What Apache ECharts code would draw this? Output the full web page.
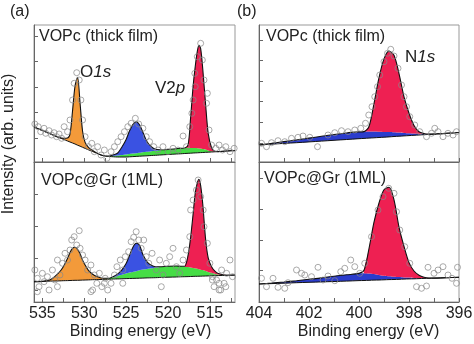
<!DOCTYPE html>
<html>
<head>
<meta charset="utf-8">
<script src="https://cdn.jsdelivr.net/npm/echarts@6.0.0/dist/echarts.min.js"></script>
<style>
  html, body { margin: 0; padding: 0; background: #fff; }
  #chart { width: 474px; height: 344px; }
</style>
</head>
<body>
<div id="chart"></div>
<script>
const _ = null;

// ---- (a) O1s / V2p region: binding-energy grid shared by both spectra ----
const energyA = [536, 535, 534, 533, 532.5, 532, 531.7, 531.4, 531.1, 530.8, 530.5, 530.2, 529.9, 529.5, 529, 528.5, 528, 527.5, 527, 526.5, 526, 525.5, 525, 524.6, 524.2, 523.8, 523.4, 523, 522.5, 522, 521.5, 521, 520, 519, 518.5, 518, 517.6, 517.3, 517, 516.75, 516.5, 516.3, 516.1, 515.85, 515.5, 515.2, 514.8, 514.4, 514, 513, 512];

// VOPc thick film: background and fitted components (height above background)
const bgThickA = [35, 31.5, 28, 24.5, 22.7, 21, 20, 19, 18, 16.8, 15.8, 14.7, 13.6, 12.2, 10.5, 8.7, 7, 6, 5.5, 5.2, 5, 5, 5, 5.2, 5.4, 5.6, 5.8, 6, 6.2, 6.5, 6.7, 7, 7.5, 8, 8.2, 8.5, 8.7, 8.8, 9, 9.1, 9.2, 9.3, 9.4, 9.5, 9.7, 9.8, 10, 10.2, 10.4, 11, 11.5];
const o1sThickA = [_, _, _, 0, 1, 3, 8, 32, 58, 68, 43, 16, 6, 2.5, 1, 0.3, 0, _, _, _, _, _, _, _, _, _, _, _, _, _, _, _, _, _, _, _, _, _, _, _, _, _, _, _, _, _, _, _, _, _, _];
const v2pHalfThickA = [_, _, _, _, _, _, _, _, _, _, _, _, _, _, _, _, _, _, 0, 1, 2.5, 8, 15, 23, 29, 31.5, 28, 20, 10, 4.5, 1.5, 0.5, _, _, _, _, _, _, _, _, _, _, _, _, _, _, _, _, _, _, _];
const satThickA = [_, _, _, _, _, _, _, _, _, _, _, _, _, _, _, _, _, 0, 0.5, 1, 1.5, 2, 2.5, 2.8, 3, 3.2, 3.5, 3.8, 4, 4.3, 4.5, 4.8, 5, 5.3, 5.5, 5.5, 5.5, 5.3, 5, 4.8, 4.5, 4.3, 4, 3.5, 2.8, 1.8, 0.8, 0, _, _, _];
const v2p32ThickA = [_, _, _, _, _, _, _, _, _, _, _, _, _, _, _, _, _, _, _, _, _, _, _, _, _, _, _, _, _, _, _, _, _, _, _, 0, 3, 30, 62, 81.5, 97, 103, 100, 80, 44, 17, 3.5, 0.5, 0, _, _];

// VOPc@Gr (1ML)
const bgMonoA = [20.3, 20.6, 20.9, 21.1, 21.3, 21.4, 21.5, 21.6, 21.7, 21.7, 21.8, 21.9, 22, 22.1, 22.3, 22.4, 22.5, 22.7, 22.8, 23, 23.1, 23.2, 23.4, 23.5, 23.6, 23.7, 23.8, 23.9, 24.1, 24.2, 24.3, 24.5, 24.8, 25, 25.2, 25.3, 25.4, 25.5, 25.6, 25.7, 25.7, 25.8, 25.8, 25.9, 26, 26.1, 26.2, 26.3, 26.4, 26.7, 27];
const o1sMonoA = [_, 0, 1.5, 8.5, 14, 22, 28, 32, 33, 31, 26.5, 20, 15, 9.5, 5.5, 3, 1.5, 0.5, 0, _, _, _, _, _, _, _, _, _, _, _, _, _, _, _, _, _, _, _, _, _, _, _, _, _, _, _, _, _, _, _, _];
const v2pHalfMonoA = [_, _, _, _, _, _, _, _, _, _, _, _, _, _, _, _, _, _, 0, 0.5, 2, 5, 10, 17, 24.5, 28, 25, 15, 7, 3, 1, 0.3, _, _, _, _, _, _, _, _, _, _, _, _, _, _, _, _, _, _, _];
const satMonoA = [_, _, _, _, _, _, _, _, _, _, _, _, _, _, _, _, 0, 0.5, 1, 2, 3, 4, 5, 6, 6.5, 7, 8, 8.5, 9, 9.5, 10, 10.5, 11, 11, 10.5, 10, 9.5, 9, 8.5, 8, 7.5, 7, 6.5, 6, 5, 4, 3, 2, 1, 0, _];
const v2p32MonoA = [_, _, _, _, _, _, _, _, _, _, _, _, _, _, _, _, _, _, _, _, _, _, _, _, _, _, _, _, _, _, _, _, _, _, _, 0.5, 12, 30, 54, 75, 86, 90, 84, 66, 31, 14, 6, 2.5, 1, 0, _];

// ---- (b) N1s region ----
const energyB = [404, 403.5, 403, 402.5, 402, 401.5, 401, 400.5, 400, 399.8, 399.6, 399.4, 399.2, 399, 398.8, 398.6, 398.4, 398.2, 398, 397.8, 397.6, 397.4, 397.2, 397, 396.5, 396];
const bgThickB = [17, 17.8, 18.6, 19.3, 20.1, 20.9, 21.7, 22.5, 23.3, 23.6, 23.9, 24.2, 24.5, 24.8, 25.1, 25.5, 25.8, 26.1, 26.4, 26.7, 27, 27.3, 27.6, 27.9, 28.7, 29.5];
const n1sSatThickB = [0, 0.8, 1.8, 2.8, 3.8, 4.8, 5.8, 6.5, 6.8, 6.8, 6.6, 6.3, 5.8, 5.3, 4.8, 4.2, 3.6, 3, 2.4, 1.8, 1.2, 0.7, 0.3, 0, _, _];
const n1sThickB = [_, _, _, _, _, _, _, _, _, 0, 5, 28, 54, 73, 81, 77, 59, 36, 20, 8, 2, 0.5, 0, _, _, _];
const bgMonoB = [18, 18.4, 18.8, 19.3, 19.7, 20.1, 20.5, 20.9, 21.4, 21.5, 21.7, 21.9, 22, 22.2, 22.4, 22.5, 22.7, 22.9, 23.1, 23.2, 23.4, 23.6, 23.7, 23.9, 24.3, 24.7];
const n1sSatMonoB = [0, 0.5, 1.2, 2, 3, 4, 5.3, 6.3, 7.2, 7.2, 6.8, 6, 5, 4, 3.3, 2.7, 2.2, 1.7, 1.3, 0.8, 0.4, 0.2, 0, _, _, _];
const n1sMonoB = [_, _, _, _, _, _, _, _, _, 3, 25, 52, 72, 86, 89, 77, 50, 31, 15, 7, 3, 1, 0.3, 0, _, _];

// ---- measured points [binding energy, intensity] ----
const pointsThickA = [[535.9,38],[535.5,35.3],[535.2,30.3],[534.8,33.7],[534.6,28.7],[534.2,31.3],[533.9,27],[533.6,29.3],[533.3,25.3],[533.0,28],[532.7,23.7],[532.4,35.3],[532.0,30.3],[531.7,42],[531.4,62],[531.2,78.7],[530.9,89.3],[530.6,82],[530.4,62],[530.2,42],[529.9,25.3],[529.5,15.3],[529.1,18.7],[528.8,10.3],[528.4,15.3],[528.0,7],[527.6,12],[527.3,3.7],[526.8,10.3],[526.4,15.3],[526.0,20.3],[525.6,25.3],[525.2,30.3],[524.8,35.3],[524.4,38.7],[523.9,43.7],[523.5,38],[523.0,33.7],[522.6,25.3],[522.2,20.3],[521.7,15.3],[521.2,12],[520.6,15.3],[520.0,10.3],[519.4,13.7],[518.8,12],[518.2,26],[517.8,15.3],[517.4,35.3],[517.15,48.7],[517.0,62],[516.8,88.7],[516.75,75.3],[516.5,105.3],[516.1,118.7],[515.9,102],[515.7,82],[515.4,58.7],[515.3,68.7],[515.1,32],[514.8,17],[514.3,13.7],[513.9,17],[513.5,12],[513.1,15.3],[512.6,10.3],[512.1,13.7]];
const pointsMonoA = [[535.9,32],[535.6,23.7],[535.4,15.3],[535.0,28.7],[534.8,20.3],[534.4,25.3],[534.2,12],[533.8,32],[533.5,22],[533.2,42],[532.9,27],[532.6,38.7],[532.3,48.7],[532.0,42],[531.7,52],[531.5,62],[531.2,65.3],[530.9,57],[530.6,71.3],[530.5,53.7],[530.2,47],[529.9,42],[529.6,32],[529.2,37],[528.8,27],[528.5,18.7],[528.2,28.7],[527.9,15.3],[527.5,23.7],[527.2,12],[526.8,18.7],[526.4,27],[526.1,35.3],[525.7,42],[525.4,32],[525.1,45.3],[524.7,50.3],[524.4,60.3],[524.1,64.7],[523.8,70.3],[523.5,62],[523.2,53.7],[522.9,62],[522.6,45.3],[522.3,38.7],[521.9,48.7],[521.4,32],[521.0,42],[520.6,27],[520.2,38.7],[519.8,45.3],[519.4,53.7],[519.0,35.3],[518.6,28.7],[518.2,42],[517.8,52],[517.4,65.3],[517.3,92],[517.0,102],[516.6,112],[516.4,122],[516.1,105.3],[515.8,92],[515.7,75.3],[515.3,58.7],[515.0,38.7],[514.7,25.3],[514.5,15.3],[514.2,22],[513.9,12],[513.6,32],[513.3,18.7],[513.0,28.7],[512.6,42],[512.3,25.3],[535.6,10.3],[533.2,15.3],[529.0,12],[527.6,18.7],[525.4,18.7],[529.2,10.3],[520.8,15.3],[514.7,22],[513.9,18.7],[513.1,15.3],[513.7,12]];
const pointsThickB = [[403.9,18.7],[403.7,15.3],[403.5,19.3],[403.24,21.3],[402.97,20.3],[402.7,23.7],[402.44,24.7],[402.24,26],[401.97,24.7],[401.66,15.3],[401.24,27],[400.97,29.3],[400.7,31.3],[400.44,30.3],[400.17,32],[399.93,33.7],[399.74,38.7],[399.61,47],[399.48,55.3],[399.37,65.3],[399.26,75.3],[399.17,87],[399.0,100.3],[398.86,108.7],[398.73,112.7],[398.6,106],[398.44,93.7],[398.3,77],[398.2,65.3],[398.1,55.3],[397.97,45.3],[397.77,37],[397.57,30.3],[397.3,25.3],[397.1,28.7],[396.97,33.7],[396.84,30.3],[396.64,25.3],[396.44,28.7],[396.24,27],[396.1,30.3]];
const pointsMonoB = [[403.9,23.7],[403.7,15.3],[403.44,23.7],[403.24,14.7],[402.97,13.7],[402.84,19.3],[402.5,32],[402.3,28.7],[402.17,27],[401.9,25.3],[401.64,34.7],[401.44,22],[401.24,26],[400.97,21.3],[400.73,30.3],[400.57,33.7],[400.33,42],[400.17,35.3],[399.97,28.7],[399.77,38.7],[399.5,65.3],[399.24,92],[399.04,105.3],[398.81,113.7],[398.6,108.7],[398.5,90.3],[398.37,72],[398.17,55.3],[397.97,38.7],[397.7,15.3],[397.5,13.7],[397.3,16],[397.24,34.7],[397.0,28.7],[396.84,32],[396.64,35.3],[396.44,27],[396.28,23.7],[396.1,18.7],[396.06,34.7]];

// ---- axis ticks and labels ----
const ticksA = [512.5, 515, 517.5, 520, 522.5, 525, 527.5, 530, 532.5, 535];
const labelsA = [515, 520, 525, 530, 535];
const ticksB = [396, 397, 398, 399, 400, 401, 402, 403, 404];
const labelsB = [396, 398, 400, 402, 404];
const yTicks = [
  [24, 49.5, 75, 100.5, 126],
  [12, 44, 76, 108],
  [19, 40, 60.5, 81, 101.5, 122],
  [32, 62, 93, 124]
];

const FONT = '"Liberation Sans", Arial, sans-serif';
const AXIS = '#666';
const COLORS = { o: '#f39a3a', b: '#3a52e2', bDark: '#2b3ccc', g: '#45dd45', r: '#ee2052' };

function pairs(xs, ys) { return xs.map((x, i) => [x, ys[i]]); }

// add a component on top of a base curve (gaps where the component is undefined)
function over(base, comp) {
  return base.map((v, i) => (comp[i] == null ? null : v + comp[i]));
}
// base plus components, treating missing values as zero
function plus(base, comps) {
  return base.map((v, i) => comps.reduce((s, c) => s + (c[i] == null ? 0 : c[i]), v));
}

// filled region between two curves, one polygon per continuous run
function band(g, xs, lower, upper, color) {
  return {
    type: 'custom', coordinateSystem: 'cartesian2d', xAxisIndex: g, yAxisIndex: g,
    data: [[xs[0], lower[0]]], silent: true, clip: true, z: 2,
    renderItem: function (params, api) {
      const children = [];
      let run = [];
      const flush = function () {
        if (run.length > 1) {
          const top = run.map(i => api.coord([xs[i], upper[i]]));
          const bot = run.slice().reverse().map(i => api.coord([xs[i], lower[i]]));
          children.push({ type: 'polygon', shape: { points: top.concat(bot), smooth: 0.25 }, style: { fill: color, stroke: null } });
        }
        run = [];
      };
      xs.forEach((x, i) => { if (upper[i] == null) flush(); else run.push(i); });
      flush();
      return { type: 'group', children: children };
    }
  };
}

function curve(g, xs, ys, width) {
  return {
    type: 'line', xAxisIndex: g, yAxisIndex: g, data: pairs(xs, ys),
    smooth: 0.3, symbol: 'none', silent: true,
    lineStyle: { color: '#111', width: width }, z: 3
  };
}

function points(g, data) {
  return {
    type: 'scatter', xAxisIndex: g, yAxisIndex: g, data: data,
    symbol: 'circle', symbolSize: 6, silent: true,
    itemStyle: { color: 'rgba(0,0,0,0)', borderColor: '#888', borderWidth: 0.9 },
    z: 5
  };
}

function spectrumA(g, bg, o1s, v2pHalf, sat, v2p32) {
  const bgSat = plus(bg, [sat]);
  return [
    band(g, energyA, bg, over(bg, sat), COLORS.g),
    band(g, energyA, bg, over(bg, o1s), COLORS.o),
    band(g, energyA, bgSat, over(bgSat, v2pHalf), COLORS.b),
    band(g, energyA, bgSat, over(bgSat, v2p32), COLORS.r),
    curve(g, energyA, bg, 1),
    curve(g, energyA, plus(bg, [o1s, v2pHalf, sat, v2p32]), 1.1)
  ];
}
function spectrumB(g, bg, sat, n1s) {
  const bgSat = plus(bg, [sat]);
  return [
    band(g, energyB, bg, over(bg, sat), COLORS.bDark),
    band(g, energyB, bgSat, over(bgSat, n1s), COLORS.r),
    curve(g, energyB, bg, 1),
    curve(g, energyB, plus(bg, [sat, n1s]), 1.1)
  ];
}

const series = [].concat(
  spectrumA(0, bgThickA, o1sThickA, v2pHalfThickA, satThickA, v2p32ThickA), [points(0, pointsThickA)],
  spectrumA(1, bgMonoA, o1sMonoA, v2pHalfMonoA, satMonoA, v2p32MonoA), [points(1, pointsMonoA)],
  spectrumB(2, bgThickB, n1sSatThickB, n1sThickB), [points(2, pointsThickB)],
  spectrumB(3, bgMonoB, n1sSatMonoB, n1sMonoB), [points(3, pointsMonoB)]
);

const gridBox = [
  { left: 34, top: 25, width: 201, height: 137 },
  { left: 34, top: 162, width: 201, height: 140 },
  { left: 259, top: 25, width: 200, height: 137 },
  { left: 259, top: 162, width: 200, height: 140 }
];

function xAxis(g) {
  const isA = g < 2;
  const bottom = g === 1 || g === 3;
  return {
    type: 'value', gridIndex: g, inverse: true,
    min: isA ? 512 : 396, max: isA ? 536 : 404,
    axisLine: { show: true, onZero: false, lineStyle: { color: AXIS, width: 1 } },
    axisTick: { show: true, inside: true, length: 4, customValues: isA ? ticksA : ticksB, lineStyle: { color: AXIS } },
    axisLabel: {
      show: bottom, customValues: isA ? labelsA : labelsB, margin: 4,
      fontFamily: FONT, fontSize: 16, color: '#222'
    },
    splitLine: { show: false },
    name: bottom ? 'Binding energy (eV)' : '',
    nameLocation: 'middle', nameGap: 22,
    nameTextStyle: { fontFamily: FONT, fontSize: 16, color: '#222', padding: [0, 0, 0, isA ? 12 : 19] }
  };
}

function yAxis(g) {
  return {
    type: 'value', gridIndex: g, min: 0, max: gridBox[g].height,
    axisLine: { show: true, onZero: false, lineStyle: { color: AXIS, width: 1 } },
    axisTick: { show: true, inside: true, length: 4, customValues: yTicks[g], lineStyle: { color: AXIS } },
    axisLabel: { show: false },
    splitLine: { show: false }
  };
}

function label(x, y, text, size) {
  return { type: 'text', x: x, y: y, silent: true, z: 10,
    style: { text: text, fontFamily: FONT, fontSize: size || 16, fill: '#222', align: 'left', verticalAlign: 'middle' } };
}
function peakLabel(x, y, head, tail) {
  return { type: 'text', x: x, y: y, silent: true, z: 10,
    style: {
      text: '{n|' + head + '}{i|' + tail + '}', align: 'left', verticalAlign: 'middle',
      rich: {
        n: { fontFamily: FONT, fontSize: 17, fill: '#222' },
        i: { fontFamily: FONT, fontSize: 17, fill: '#222', fontStyle: 'italic' }
      }
    } };
}

const chart = echarts.init(document.getElementById('chart'), null, { renderer: 'canvas' });
chart.setOption({
  animation: false,
  backgroundColor: '#fff',
  grid: gridBox.map(b => Object.assign({ show: true, borderColor: '#999', borderWidth: 1, containLabel: false, outerBoundsMode: 'none' }, b)),
  xAxis: [0, 1, 2, 3].map(xAxis),
  yAxis: [0, 1, 2, 3].map(yAxis),
  series: series,
  graphic: [
    label(10, 12, '(a)'),
    label(237, 12, '(b)'),
    label(39, 36.5, 'VOPc (thick film)'),
    label(41, 180.5, 'VOPc@Gr (1ML)'),
    label(266, 36.5, 'VOPc (thick film)'),
    label(264, 179, 'VOPc@Gr (1ML)'),
    peakLabel(80, 72, 'O', '1s'),
    peakLabel(155, 88, 'V2', 'p'),
    peakLabel(405, 57, 'N', '1s'),
    { type: 'text', x: 9, y: 144, rotation: Math.PI / 2, silent: true,
      style: { text: 'Intensity (arb. units)', fontFamily: FONT, fontSize: 16, fill: '#222', align: 'center', verticalAlign: 'middle' } }
  ]
});
</script>
</body>
</html>
